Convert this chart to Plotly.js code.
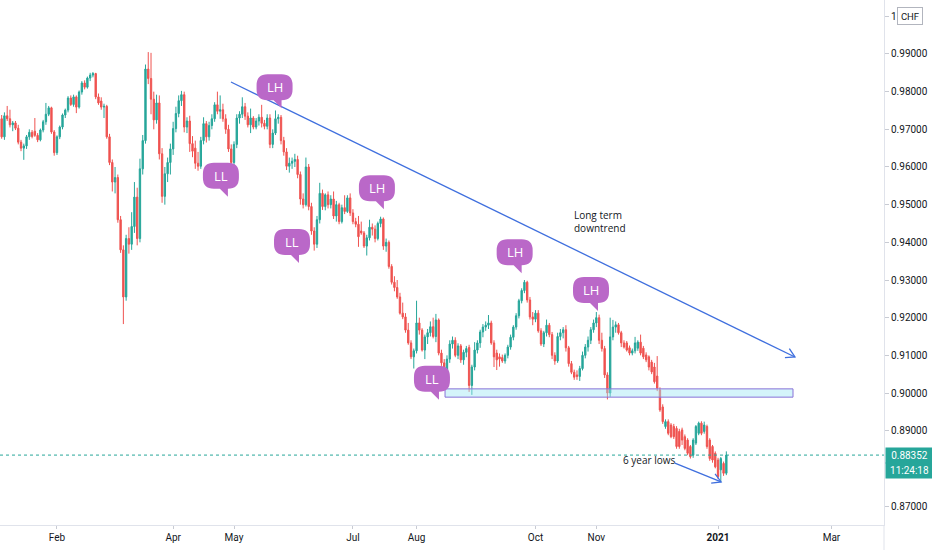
<!DOCTYPE html>
<html>
<head>
<meta charset="utf-8">
<script src="https://cdn.plot.ly/plotly-3.0.1.min.js"></script>
<style>
  html, body { margin: 0; padding: 0; background: #ffffff; }
  #chart { width: 932px; height: 550px; }
</style>
</head>
<body>
<div id="chart"></div>
<script>
// ---- Daily USD/CHF candles (first bar 2020-01-03) ----
const openVals = [
  .9702,.9728,.9680,.9736,.9728,.9712,.9717,.9703,.9666,.9650,
  .9656,.9680,.9692,.9695,.9684,.9672,.9698,.9720,.9740,.9757,
  .9693,.9638,.9680,.9706,.9738,.9751,.9783,.9766,.9786,.9759,
  .9799,.9823,.9812,.9836,.9844,.9848,.9786,.9775,.9759,.9761,
  .9680,.9612,.9560,.9572,.9460,.9380,.9255,.9410,.9395,.9442,
  .9520,.9410,.9595,.9670,.9860,.9835,.9780,.9725,.9770,.9635,
  .9522,.9582,.9612,.9648,.9702,.9742,.9776,.9792,.9706,.9722,
  .9662,.9650,.9610,.9602,.9670,.9715,.9680,.9710,.9728,.9765,
  .9748,.9752,.9728,.9700,.9648,.9612,.9660,.9730,.9740,.9760,
  .9735,.9712,.9730,.9706,.9722,.9732,.9716,.9708,.9730,.9660,
  .9690,.9728,.9732,.9670,.9640,.9602,.9610,.9615,.9620,.9580,
  .9515,.9500,.9600,.9495,.9430,.9395,.9460,.9530,.9495,.9526,
  .9500,.9515,.9470,.9500,.9455,.9492,.9482,.9518,.9478,.9455,
  .9448,.9430,.9425,.9390,.9412,.9440,.9435,.9410,.9450,.9462,
  .9390,.9400,.9336,.9294,.9280,.9255,.9212,.9202,.9167,.9133,
  .9096,.9112,.9186,.9167,.9114,.9149,.9160,.9176,.9150,.9194,
  .9106,.9080,.9052,.9090,.9130,.9140,.9100,.9125,.9088,.9108,
  .9121,.9020,.9069,.9114,.9133,.9162,.9175,.9180,.9186,.9133,
  .9106,.9096,.9094,.9085,.9100,.9122,.9148,.9175,.9205,.9245,
  .9272,.9294,.9247,.9202,.9196,.9212,.9165,.9130,.9160,.9180,
  .9155,.9100,.9085,.9150,.9160,.9168,.9120,.9078,.9055,.9048,
  .9044,.9065,.9100,.9122,.9140,.9168,.9186,.9200,.9140,.9118,
  .9048,.9000,.9149,.9175,.9181,.9160,.9133,.9133,.9120,.9106,
  .9112,.9119,.9135,.9119,.9101,.9096,.9082,.9069,.9045,.9008,
  .8963,.8911,.8924,.8915,.8911,.8906,.8898,.8902,.8884,.8875,
  .8858,.8835,.8867,.8893,.8920,.8898,.8911,.8875,.8858,.8840,
  .8822,.8796,.8813,.8787
];
const highVals = [
  .9735,.9738,.9745,.9762,.9752,.9722,.9722,.9712,.9672,.9662,
  .9685,.9700,.9698,.9730,.9690,.9702,.9725,.9770,.9762,.9760,
  .9698,.9684,.9710,.9742,.9755,.9788,.9790,.9792,.9790,.9803,
  .9828,.9830,.9840,.9850,.9852,.9850,.9795,.9785,.9768,.9765,
  .9688,.9620,.9600,.9580,.9470,.9392,.9420,.9440,.9480,.9560,
  .9545,.9622,.9685,.9872,.9905,.9903,.9800,.9792,.9790,.9650,
  .9600,.9625,.9662,.9720,.9760,.9790,.9802,.9800,.9732,.9736,
  .9682,.9670,.9640,.9680,.9732,.9722,.9720,.9740,.9772,.9800,
  .9790,.9768,.9740,.9712,.9660,.9668,.9740,.9748,.9785,.9770,
  .9745,.9755,.9735,.9730,.9740,.9765,.9725,.9740,.9740,.9700,
  .9750,.9740,.9738,.9680,.9650,.9625,.9625,.9635,.9630,.9588,
  .9530,.9625,.9608,.9505,.9440,.9470,.9558,.9540,.9530,.9535,
  .9525,.9535,.9510,.9505,.9500,.9525,.9525,.9530,.9488,.9465,
  .9470,.9455,.9430,.9420,.9460,.9450,.9445,.9455,.9468,.9466,
  .9410,.9405,.9342,.9310,.9300,.9266,.9240,.9212,.9186,.9140,
  .9118,.9245,.9200,.9172,.9155,.9170,.9190,.9200,.9210,.9198,
  .9115,.9090,.9100,.9140,.9150,.9148,.9132,.9130,.9115,.9125,
  .9128,.9075,.9135,.9140,.9168,.9183,.9190,.9207,.9192,.9140,
  .9115,.9105,.9102,.9105,.9128,.9155,.9180,.9212,.9250,.9278,
  .9300,.9298,.9255,.9215,.9220,.9220,.9172,.9165,.9195,.9186,
  .9162,.9108,.9160,.9170,.9175,.9180,.9125,.9085,.9062,.9060,
  .9072,.9110,.9130,.9150,.9175,.9195,.9215,.9208,.9160,.9125,
  .9055,.9200,.9194,.9190,.9186,.9165,.9140,.9138,.9126,.9118,
  .9149,.9140,.9155,.9125,.9108,.9100,.9088,.9080,.9098,.9015,
  .8970,.8930,.8930,.8920,.8918,.8912,.8905,.8908,.8890,.8880,
  .8862,.8880,.8915,.8924,.8925,.8924,.8916,.8880,.8862,.8845,
  .8828,.8830,.8818,.8845
];
const lowVals = [
  .9695,.9675,.9672,.9722,.9705,.9695,.9698,.9660,.9642,.9619,
  .9648,.9672,.9676,.9680,.9666,.9668,.9692,.9712,.9735,.9688,
  .9630,.9632,.9674,.9700,.9730,.9745,.9762,.9760,.9743,.9755,
  .9792,.9806,.9808,.9828,.9838,.9780,.9765,.9752,.9730,.9675,
  .9605,.9535,.9530,.9452,.9372,.9183,.9245,.9370,.9380,.9425,
  .9392,.9400,.9580,.9662,.9820,.9740,.9700,.9715,.9620,.9505,
  .9500,.9560,.9580,.9632,.9692,.9732,.9762,.9692,.9690,.9640,
  .9626,.9595,.9590,.9595,.9660,.9665,.9670,.9700,.9720,.9740,
  .9728,.9720,.9688,.9640,.9598,.9600,.9650,.9715,.9730,.9725,
  .9705,.9690,.9700,.9700,.9710,.9705,.9700,.9700,.9650,.9650,
  .9685,.9715,.9660,.9630,.9592,.9585,.9595,.9600,.9570,.9500,
  .9490,.9495,.9485,.9420,.9378,.9385,.9450,.9486,.9485,.9490,
  .9490,.9462,.9455,.9448,.9450,.9475,.9478,.9470,.9448,.9440,
  .9388,.9420,.9385,.9365,.9405,.9418,.9400,.9405,.9440,.9380,
  .9375,.9330,.9288,.9270,.9250,.9208,.9196,.9160,.9128,.9090,
  .9065,.9105,.9155,.9110,.9090,.9130,.9150,.9145,.9135,.9100,
  .9072,.9008,.9040,.9080,.9118,.9095,.9090,.9080,.9075,.9095,
  .9003,.8995,.9060,.9105,.9120,.9148,.9165,.9170,.9128,.9069,
  .9061,.9070,.9080,.9078,.9092,.9115,.9140,.9168,.9198,.9238,
  .9265,.9240,.9195,.9180,.9188,.9160,.9125,.9122,.9150,.9148,
  .9090,.9075,.9080,.9140,.9145,.9110,.9070,.9050,.9035,.9035,
  .9032,.9060,.9092,.9110,.9130,.9160,.9175,.9130,.9110,.9040,
  .8983,.8990,.9140,.9160,.9155,.9122,.9118,.9110,.9100,.9100,
  .9105,.9112,.9100,.9090,.9082,.9060,.9050,.9025,.9005,.8950,
  .8918,.8905,.8888,.8880,.8878,.8852,.8852,.8862,.8848,.8835,
  .8826,.8828,.8862,.8888,.8888,.8892,.8852,.8820,.8815,.8800,
  .8772,.8765,.8780,.8782
];
const closeVals = [
  .9728,.9680,.9736,.9728,.9712,.9717,.9703,.9666,.9650,.9656,
  .9680,.9692,.9681,.9684,.9672,.9698,.9720,.9740,.9757,.9693,
  .9638,.9680,.9706,.9738,.9751,.9783,.9766,.9786,.9759,.9799,
  .9823,.9812,.9836,.9844,.9848,.9786,.9770,.9759,.9761,.9680,
  .9612,.9560,.9572,.9460,.9380,.9255,.9410,.9395,.9442,.9520,
  .9410,.9595,.9670,.9860,.9835,.9780,.9725,.9770,.9635,.9522,
  .9582,.9612,.9648,.9702,.9742,.9776,.9792,.9706,.9722,.9662,
  .9642,.9610,.9602,.9670,.9715,.9680,.9710,.9728,.9765,.9748,
  .9752,.9728,.9700,.9648,.9612,.9660,.9730,.9740,.9760,.9735,
  .9712,.9730,.9706,.9722,.9732,.9716,.9708,.9730,.9660,.9690,
  .9728,.9732,.9670,.9640,.9602,.9610,.9615,.9620,.9580,.9515,
  .9500,.9600,.9495,.9430,.9395,.9460,.9530,.9495,.9526,.9500,
  .9515,.9470,.9500,.9455,.9492,.9482,.9518,.9478,.9455,.9448,
  .9415,.9425,.9390,.9412,.9440,.9435,.9410,.9450,.9462,.9390,
  .9400,.9336,.9294,.9280,.9255,.9212,.9202,.9167,.9133,.9096,
  .9112,.9186,.9167,.9114,.9149,.9160,.9176,.9150,.9194,.9106,
  .9080,.9052,.9090,.9130,.9140,.9100,.9125,.9088,.9108,.9118,
  .9020,.9069,.9114,.9133,.9162,.9175,.9180,.9186,.9133,.9096,
  .9088,.9090,.9085,.9100,.9122,.9148,.9175,.9205,.9245,.9272,
  .9294,.9247,.9202,.9196,.9212,.9165,.9130,.9160,.9180,.9155,
  .9100,.9085,.9150,.9160,.9168,.9120,.9078,.9055,.9042,.9044,
  .9065,.9100,.9122,.9140,.9168,.9186,.9200,.9140,.9118,.9048,
  .9000,.9149,.9175,.9181,.9160,.9133,.9122,.9114,.9106,.9112,
  .9133,.9135,.9106,.9096,.9088,.9069,.9056,.9030,.9013,.8955,
  .8924,.8924,.8893,.8884,.8884,.8858,.8858,.8875,.8853,.8840,
  .8831,.8875,.8911,.8920,.8893,.8915,.8858,.8826,.8822,.8804,
  .8778,.8826,.8787,.88352
];

// ---- Axis tick labels ----
const monthTickDates = ['2020-02-03','2020-04-01','2020-05-01','2020-07-01','2020-08-03',
                        '2020-10-01','2020-11-02','2021-01-01','2021-03-01'];
const monthTickLabels = ['Feb','Apr','May','Jul','Aug','Oct','Nov','<b>2021</b>','Mar'];
// price ticks (0.88000 sits under the last-price tag; 1.00000 is mostly under the CHF tag)
const priceTickVals = [0.87, 0.89, 0.90, 0.91, 0.92, 0.93, 0.94, 0.95, 0.96, 0.97, 0.98, 0.99, 1.00];
const priceTickText = ['0.87000','0.89000','0.90000','0.91000','0.92000','0.93000','0.94000',
                       '0.95000','0.96000','0.97000','0.98000','0.99000','1'];
const currencyLabel = 'CHF';
const countdownLabel = '11:24:18';

// ---- Drawings (anchored in trading-day index / price) ----
const bubbleTexts  = ['LH', 'LL', 'LL', 'LH', 'LL', 'LH', 'LH'];
const bubbleIdx    = [102.2, 82.8, 108.5, 139.2, 159.1, 189.0, 216.6];
const bubblePrice  = [0.9756, 0.9521, 0.9345, 0.9488, 0.8982, 0.9318, 0.9218];
const trendIdx     = [83.9, 287.8];
const trendPrice   = [0.98257, 0.90956];
const zoneIdx      = [161.3, 287.1];
const zonePrice    = [0.8989, 0.9011];
const lowsArrowIdx   = [244.4, 261.1];
const lowsArrowPrice = [0.8814, 0.8764];
const noteTexts  = ['Long term<br>downtrend', '6 year lows'];
const noteIdx    = [207.2, 224.9];
const notePrice  = [0.9454, 0.8822];
const viewIdx    = [0.4, 320];
const priceRange = [0.86496, 1.00433];

// ---- trading calendar (weekdays) ----
function tradingDays(startISO, count) {
  const out = [];
  const d = new Date(startISO + 'T00:00:00Z');
  while (out.length < count) {
    const wd = d.getUTCDay();
    if (wd !== 0 && wd !== 6) out.push(d.toISOString().slice(0, 10));
    d.setUTCDate(d.getUTCDate() + 1);
  }
  return out;
}
const calendar = tradingDays('2020-01-03', 340);
const dates = calendar.slice(0, closeVals.length);
function atIndex(k) {
  const i = Math.floor(k), f = k - i;
  const t = new Date(calendar[i] + 'T00:00:00Z').getTime() + f * 86400000;
  return new Date(t).toISOString().replace('T', ' ').slice(0, 19);
}

const UP = '#26a69a', DOWN = '#ef5350', BLUE = '#3f6fde', PURPLE = '#ba68c8';
const lastClose = closeVals[closeVals.length - 1];

const trace = {
  type: 'candlestick',
  x: dates, open: openVals, high: highVals, low: lowVals, close: closeVals,
  increasing: { line: { color: UP, width: 1 }, fillcolor: UP },
  decreasing: { line: { color: DOWN, width: 1 }, fillcolor: DOWN },
  whiskerwidth: 0,
  hoverinfo: 'skip',
  showlegend: false
};

const bubblePath = 'M -14,34 L 0,34 Q 11,34 11,23 L 11,19 Q 11,8 0,8 L 0,0 L -8,8 L -14,8 ' +
                   'Q -25,8 -25,19 L -25,23 Q -25,34 -14,34 Z';

const shapes = [];
const annotations = [];

// support zone
shapes.push({
  type: 'rect', xref: 'x', yref: 'y',
  x0: atIndex(zoneIdx[0]), x1: atIndex(zoneIdx[1]), y0: zonePrice[0], y1: zonePrice[1],
  fillcolor: 'rgba(160,230,245,0.45)', line: { color: '#8a72d8', width: 1 }, layer: 'above'
});
// trend line + arrow head
shapes.push({
  type: 'line', xref: 'x', yref: 'y',
  x0: atIndex(trendIdx[0]), y0: trendPrice[0], x1: atIndex(trendIdx[1]), y1: trendPrice[1],
  line: { color: BLUE, width: 1.3 }, layer: 'above'
});
shapes.push({
  type: 'path', xref: 'x', yref: 'y', xsizemode: 'pixel', ysizemode: 'pixel',
  xanchor: atIndex(trendIdx[1]), yanchor: trendPrice[1],
  path: 'M -5.6,8.3 L 0,0 L -10,-0.7', line: { color: BLUE, width: 1.3 },
  fillcolor: 'rgba(0,0,0,0)', layer: 'above'
});
// 6 year lows arrow
shapes.push({
  type: 'line', xref: 'x', yref: 'y',
  x0: atIndex(lowsArrowIdx[0]), y0: lowsArrowPrice[0], x1: atIndex(lowsArrowIdx[1]), y1: lowsArrowPrice[1],
  line: { color: BLUE, width: 1.3 }, layer: 'above'
});
shapes.push({
  type: 'path', xref: 'x', yref: 'y', xsizemode: 'pixel', ysizemode: 'pixel',
  xanchor: atIndex(lowsArrowIdx[1]), yanchor: lowsArrowPrice[1],
  path: 'M -6,8 L 0,0 L -9.9,-1.2', line: { color: BLUE, width: 1.3 },
  fillcolor: 'rgba(0,0,0,0)', layer: 'above'
});
// last price dotted line
shapes.push({
  type: 'line', xref: 'paper', yref: 'y', x0: 0, x1: 1, y0: lastClose, y1: lastClose,
  line: { color: UP, width: 1, dash: 'dot' }, layer: 'above'
});
// price scale separator down to the bottom
shapes.push({
  type: 'line', xref: 'paper', yref: 'paper', x0: 1, x1: 1, y0: 0, y1: -25 / 525,
  line: { color: '#e0e3eb', width: 1 }
});

// balloons
bubbleTexts.forEach((t, k) => {
  shapes.push({
    type: 'path', xref: 'x', yref: 'y', xsizemode: 'pixel', ysizemode: 'pixel',
    xanchor: atIndex(bubbleIdx[k]), yanchor: bubblePrice[k],
    path: bubblePath, fillcolor: PURPLE, line: { width: 0 }, layer: 'above'
  });
  annotations.push({
    xref: 'x', yref: 'y', x: atIndex(bubbleIdx[k]), y: bubblePrice[k],
    xshift: -7, yshift: 21, text: t, showarrow: false,
    font: { family: 'Open Sans, sans-serif', size: 13, color: '#ffffff' }
  });
});

// text notes
noteTexts.forEach((t, k) => {
  annotations.push({
    xref: 'x', yref: 'y', x: atIndex(noteIdx[k]), y: notePrice[k], text: t,
    xanchor: 'left', yanchor: 'middle', align: 'left', showarrow: false,
    font: { family: 'Open Sans, sans-serif', size: 10, color: '#131722' }
  });
});

// price scale tags
annotations.push({
  xref: 'paper', yref: 'y', x: 1, y: lastClose, xanchor: 'left', xshift: 1,
  text: lastClose.toFixed(5), showarrow: false, bgcolor: UP, width: 44, height: 12, borderpad: 1.5,
  font: { family: 'Roboto, sans-serif', size: 10, color: '#ffffff' }
});
annotations.push({
  xref: 'paper', yref: 'y', x: 1, y: lastClose, xanchor: 'left', xshift: 1, yshift: -15,
  text: countdownLabel, showarrow: false, bgcolor: UP, width: 44, height: 12, borderpad: 1.5,
  font: { family: 'Roboto, sans-serif', size: 10, color: '#ffffff' }
});
annotations.push({
  xref: 'paper', yref: 'y', x: 1, y: 1.0, xanchor: 'left', xshift: 13,
  text: currencyLabel, showarrow: false, bgcolor: '#ffffff', bordercolor: '#b2b5be',
  borderwidth: 1, borderpad: 2, width: 20, height: 12,
  font: { family: 'Roboto, sans-serif', size: 9.5, color: '#131722' }
});

const layout = {
  width: 932, height: 550,
  margin: { l: 0, r: 48, t: 0, b: 25, pad: 0 },
  paper_bgcolor: '#ffffff', plot_bgcolor: '#ffffff',
  font: { family: 'Roboto, sans-serif', size: 10, color: '#131722' },
  showlegend: false,
  dragmode: false,
  xaxis: {
    type: 'date',
    rangebreaks: [{ bounds: ['sat', 'mon'] }],
    range: [atIndex(viewIdx[0]), atIndex(viewIdx[1])],
    rangeslider: { visible: false },
    tickmode: 'array', tickvals: monthTickDates, ticktext: monthTickLabels,
    showgrid: false, zeroline: false,
    showline: true, linecolor: '#e0e3eb', linewidth: 1,
    ticks: 'outside', ticklen: 3, tickcolor: '#c8cbd3',
    tickfont: { family: 'Roboto, sans-serif', size: 10, color: '#131722' },
    fixedrange: true
  },
  yaxis: {
    side: 'right',
    range: priceRange,
    tickmode: 'array', tickvals: priceTickVals, ticktext: priceTickText,
    showgrid: false, zeroline: false,
    showline: true, linecolor: '#e0e3eb', linewidth: 1,
    ticks: 'outside', ticklen: 4, tickcolor: '#c8cbd3',
    tickfont: { family: 'Roboto, sans-serif', size: 10, color: '#131722' },
    fixedrange: true
  },
  shapes: shapes,
  annotations: annotations
};

Plotly.newPlot('chart', [trace], layout, { displayModeBar: false, staticPlot: true });
</script>
</body>
</html>
